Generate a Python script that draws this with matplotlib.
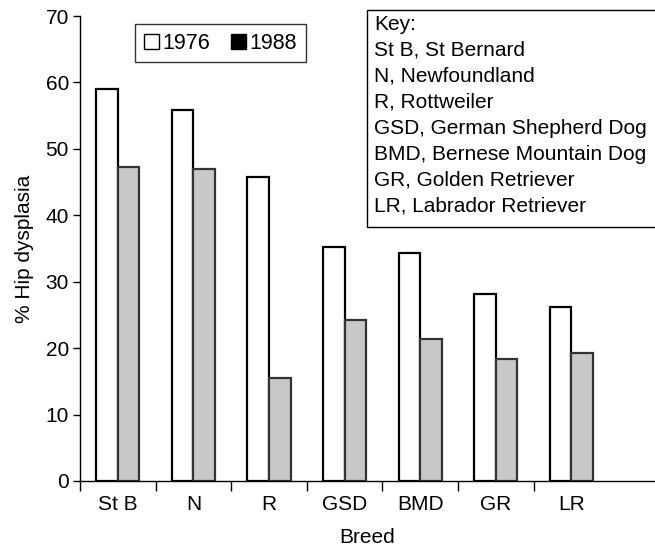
import matplotlib
matplotlib.use("Agg")
import matplotlib.pyplot as plt
from matplotlib.patches import Patch, Rectangle
import numpy as np

plt.rcParams['font.family'] = ['Liberation Sans', 'DejaVu Sans']

breeds = ["St B", "N", "R", "GSD", "BMD", "GR", "LR"]
vals_1976 = [59.0, 55.9, 45.8, 35.2, 34.3, 28.2, 26.2]
vals_1988 = [47.2, 47.0, 15.5, 24.2, 21.4, 18.4, 19.2]
key_lines = ["Key:", "St B, St Bernard", "N, Newfoundland", "R, Rottweiler",
             "GSD, German Shepherd Dog", "BMD, Bernese Mountain Dog",
             "GR, Golden Retriever", "LR, Labrador Retriever"]

W, H = 655, 549
FS = 15
fig = plt.figure(figsize=(W / 100, H / 100), dpi=100)
ax = fig.add_axes([80 / W, (H - 481) / H, (W - 80) / W, (481 - 16) / H])

x = np.arange(len(breeds))
bw = 0.285
ax.bar(x - bw / 2, vals_1976, width=bw, color="white", edgecolor="black", linewidth=1.6)
ax.bar(x + bw / 2, vals_1988, width=bw, color="#c8c8c8", edgecolor="#333333", linewidth=1.6)

ax.set_xlim(-0.5, -0.5 + 575 / 75.6)
ax.set_ylim(0, 70)
ax.spines['top'].set_visible(False)
ax.spines['right'].set_visible(False)
ax.spines['left'].set_linewidth(1.0)
ax.spines['bottom'].set_linewidth(1.0)

ax.set_yticks(range(0, 71, 10))
ax.tick_params(axis='y', direction='out', length=5, width=1, labelsize=FS, pad=3)
ax.set_xticks(np.arange(-0.5, len(breeds) - 1, 1.0))
ax.set_xticklabels([])
ax.tick_params(axis='x', which='major', direction='out', length=7, width=1)
ax.set_xticks(x, minor=True)
ax.set_xticklabels(breeds, minor=True)
ax.tick_params(axis='x', which='minor', length=0, labelsize=FS, pad=10)

ax.set_ylabel("% Hip dysplasia", fontsize=FS, labelpad=8)
ax.set_xlabel("Breed", fontsize=FS, labelpad=10)

handles = [Patch(facecolor="white", edgecolor="black", linewidth=1),
           Patch(facecolor="black", edgecolor="black", linewidth=1)]
leg = fig.legend(handles, ["1976", "1988"], ncol=2, loc="upper left",
                 bbox_to_anchor=(135 / W, 1 - 24 / H), frameon=True, fancybox=False,
                 fontsize=15.5, handlelength=0.7, handleheight=0.7, handletextpad=0.15,
                 columnspacing=1.0, borderpad=0.4, borderaxespad=0)
leg.get_frame().set_edgecolor("black")
leg.get_frame().set_linewidth(1.0)

fig.patches.append(Rectangle((367 / W, 1 - 227 / H), (W - 367 + 5) / W, (227 - 10) / H,
                             transform=fig.transFigure, facecolor="white",
                             edgecolor="black", linewidth=1.0, clip_on=False))
ys = [24, 50, 76, 102, 128, 154, 180, 206]
for yy, t in zip(ys, key_lines):
    fig.text(374 / W, 1 - yy / H, t, fontsize=FS, va="center", ha="left")

fig.savefig("out.png", dpi=100)
